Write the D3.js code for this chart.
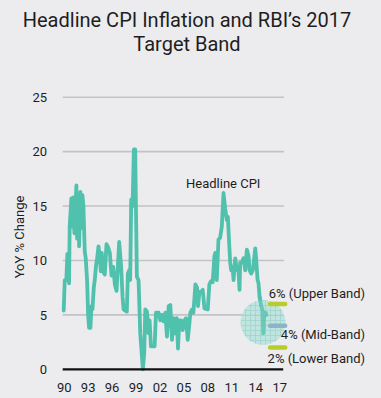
<!DOCTYPE html>
<html>
<head>
<meta charset="utf-8">
<script src="https://cdn.jsdelivr.net/npm/d3@7"></script>
<style>
  html, body { margin: 0; padding: 0; background: #ececee; }
  svg { display: block; font-family: Roboto, "Open Sans", sans-serif; }
</style>
</head>
<body>
<svg id="chart" width="381" height="398"></svg>
<script>
// ---- data ----
const titleLines = ["Headline CPI Inflation and RBI’s 2017", "Target Band"];
const yAxisTitle = "YoY % Change";
const seriesLabel = "Headline CPI";

const years = [
  1990.00, 1990.13, 1990.33, 1990.46, 1990.63, 1990.67, 1990.75, 1990.96, 1991.09, 1991.17,
  1991.34, 1991.59, 1991.68, 1991.84, 1991.93, 1992.09, 1992.22, 1992.35, 1992.47, 1992.64,
  1992.76, 1992.93, 1993.06, 1993.18, 1993.35, 1993.48, 1993.60, 1993.77, 1993.89, 1994.06,
  1994.19, 1994.36, 1994.44, 1994.52, 1994.65, 1994.77, 1994.94, 1995.15, 1995.36, 1995.57,
  1995.78, 1995.99, 1996.20, 1996.41, 1996.62, 1996.95, 1997.20, 1997.37, 1997.50, 1997.91,
  1998.04, 1998.21, 1998.33, 1998.46, 1998.63, 1998.79, 1998.96, 1999.05, 1999.17, 1999.38,
  1999.59, 1999.92, 2000.09, 2000.22, 2000.43, 2000.64, 2000.76, 2000.93, 2001.39, 2001.56,
  2001.89, 2002.10, 2002.31, 2002.52, 2002.73, 2002.94, 2003.15, 2003.36, 2003.57, 2003.74,
  2003.99, 2004.16, 2004.32, 2004.49, 2004.70, 2004.91, 2005.12, 2005.33, 2005.54, 2005.75,
  2005.87, 2006.08, 2006.25, 2006.50, 2006.71, 2006.83, 2007.00, 2007.21, 2007.42, 2007.63,
  2008.05, 2008.25, 2008.46, 2008.67, 2008.88, 2009.00, 2009.18, 2009.39, 2009.60, 2009.81,
  2010.02, 2010.23, 2010.44, 2010.57, 2010.73, 2010.86, 2010.99, 2011.16, 2011.28, 2011.49,
  2011.70, 2011.90, 2012.03, 2012.11, 2012.32, 2012.53, 2012.74, 2012.95, 2013.16, 2013.28,
  2013.49, 2013.70, 2014.00, 2014.12, 2014.29, 2014.41, 2014.54, 2014.75, 2014.92, 2015.00,
  2015.10, 2015.30, 2015.40
];
const cpi = [
  5.4, 8.2, 8.2, 10.6, 10.6, 7.9, 13.1, 15.7, 13.1, 15.8,
  12.5, 16.9, 12.0, 15.5, 11.3, 16.3, 13.0, 16.0, 15.0, 10.8,
  10.2, 8.2, 5.0, 3.8, 3.8, 5.8, 5.5, 7.5, 8.2, 9.6,
  10.2, 11.3, 10.8, 10.2, 9.0, 10.7, 9.0, 8.7, 11.5, 11.2,
  10.7, 8.6, 9.4, 7.8, 7.2, 11.7, 9.4, 6.7, 5.5, 5.3,
  8.8, 9.1, 8.2, 15.6, 15.0, 20.2, 20.2, 15.0, 8.5, 8.2,
  3.3, 0.0, 1.5, 5.5, 5.3, 3.3, 4.5, 2.1, 2.1, 5.2,
  5.2, 4.5, 5.0, 4.4, 5.2, 3.0, 5.8, 5.9, 2.7, 4.7,
  3.3, 4.7, 1.9, 4.5, 4.5, 3.6, 4.5, 4.7, 2.7, 4.2,
  5.2, 5.5, 5.2, 7.8, 7.5, 5.8, 7.1, 7.1, 7.3, 5.6,
  5.5, 7.8, 8.1, 8.0, 10.4, 10.7, 8.2, 11.9, 12.1, 13.1,
  16.2, 14.8, 13.7, 14.0, 11.6, 9.8, 9.1, 9.4, 8.2, 10.2,
  9.1, 9.1, 7.3, 9.8, 9.8, 10.2, 9.1, 11.0, 10.4, 9.1,
  8.8, 9.1, 11.1, 10.1, 8.2, 7.9, 6.7, 5.8, 5.4, 3.3,
  5.0, 5.2, 5.0
];

const yTicks = [0, 5, 10, 15, 20, 25];
const xTickYears = [1990, 1993, 1996, 1999, 2002, 2005, 2008, 2011, 2014, 2017];
const xTickLabels = ["90", "93", "96", "99", "02", "05", "08", "11", "14", "17"];

const bandValues = [6, 4, 2];
const bandLabels = ["6% (Upper Band)", "4% (Mid-Band)", "2% (Lower Band)"];
const bandColors = ["#b9cc2e", "#8fb3c6", "#b9cc2e"];

// ---- layout ----
const svg = d3.select("#chart");
const x = d3.scaleLinear().domain([1990, 2017]).range([63.7, 279.2]);
const y = d3.scaleLinear().domain([0, 25]).range([369.3, 97.2]);
const plotLeft = x(1990) - 1;
const plotRight = x(2017.6);
const textColor = "#1e1e1e";
const lineColor = "#50c1ad";

// title
svg.append("g").selectAll("text").data(titleLines).join("text")
  .attr("x", 187).attr("y", (d, i) => 27 + i * 23.5)
  .attr("text-anchor", "middle")
  .attr("font-size", 20).attr("fill", textColor)
  .text(d => d);

// gridlines
svg.append("g").selectAll("line").data(yTicks.filter(t => t > 0)).join("line")
  .attr("x1", plotLeft).attr("x2", plotRight)
  .attr("y1", d => y(d)).attr("y2", d => y(d))
  .attr("stroke", "#c3c3c5").attr("stroke-width", 1.6);

// y axis (labels only)
const yAxis = d3.axisLeft(y).tickValues(yTicks).tickSize(0).tickPadding(0);
const gy = svg.append("g").attr("transform", "translate(47,0)").call(yAxis);
gy.select(".domain").remove();
gy.selectAll("text").attr("font-size", 13).attr("fill", textColor)
  .attr("font-family", "Roboto, sans-serif");

// x axis
const xAxis = d3.axisBottom(x).tickValues(xTickYears)
  .tickFormat((d, i) => xTickLabels[i]).tickSize(0).tickPadding(13);
const gx = svg.append("g").attr("transform", `translate(0,${y(0)})`).call(xAxis);
gx.select(".domain").remove();
gx.selectAll("text").attr("font-size", 13).attr("fill", textColor)
  .attr("font-family", "Roboto, sans-serif");

// y axis title
svg.append("text")
  .attr("transform", "translate(24,237) rotate(-90)")
  .attr("text-anchor", "middle").attr("font-size", 13).attr("fill", textColor)
  .text(yAxisTitle);

// series line
const pts = years.map((yr, i) => [yr, cpi[i]]);
const line = d3.line().x(d => x(d[0])).y(d => y(d[1]));
svg.append("path").datum(pts)
  .attr("d", line).attr("fill", "none")
  .attr("stroke", lineColor).attr("stroke-width", 3.8)
  .attr("stroke-linejoin", "round").attr("stroke-linecap", "round");

// baseline
svg.append("line")
  .attr("x1", plotLeft).attr("x2", x(2017.5))
  .attr("y1", y(0)).attr("y2", y(0))
  .attr("stroke", "#111").attr("stroke-width", 2.2);

// highlight circle with grid pattern
const defs = svg.append("defs");
const pat = defs.append("pattern").attr("id", "grid")
  .attr("patternUnits", "userSpaceOnUse").attr("width", 5).attr("height", 5);
pat.append("rect").attr("width", 5).attr("height", 5).attr("fill", "#b8e3dc");
pat.append("path").attr("d", "M0,0.5H5M0.5,0V5")
  .attr("stroke", "#97d2c8").attr("stroke-width", 0.9);
svg.append("circle")
  .attr("cx", x(2014.97)).attr("cy", y(4.3)).attr("r", 22.5)
  .attr("fill", "url(#grid)").attr("opacity", 0.85);

// redraw the line inside the circle faintly so it shows through
svg.append("path").datum(pts.filter(d => d[0] >= 2014.5))
  .attr("d", line).attr("fill", "none")
  .attr("stroke", lineColor).attr("stroke-width", 3.8).attr("opacity", 0.7)
  .attr("stroke-linejoin", "round").attr("stroke-linecap", "round");

// band markers
svg.append("g").selectAll("line").data(bandValues).join("line")
  .attr("x1", x(2015.85)).attr("x2", x(2017.75))
  .attr("y1", d => y(d)).attr("y2", d => y(d))
  .attr("stroke", (d, i) => bandColors[i]).attr("stroke-width", 4.5)
  .attr("stroke-linecap", "round");

// band labels
const bandLabelY = [297.5, 339, 363];
svg.append("g").selectAll("text").data(bandLabels).join("text")
  .attr("x", 365).attr("y", (d, i) => bandLabelY[i])
  .attr("text-anchor", "end").attr("font-size", 13).attr("fill", textColor)
  .text(d => d);

// series label
svg.append("text").attr("x", 186).attr("y", 188)
  .attr("font-size", 13).attr("fill", textColor).text(seriesLabel);
</script>
</body>
</html>
